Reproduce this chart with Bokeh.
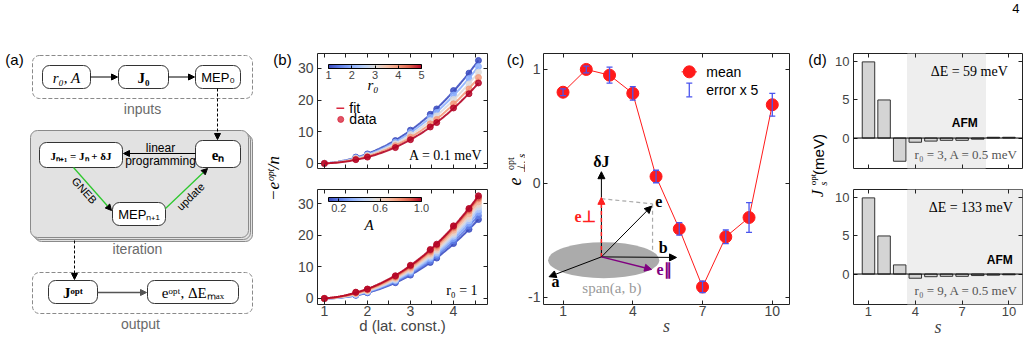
import numpy as np
from bokeh.plotting import figure
from bokeh.layouts import column
from bokeh.models import (Range1d, LinearAxis, FixedTicker, Label, Arrow, NormalHead,
                          TeeHead, Whisker, ColumnDataSource, ColorBar, LinearColorMapper,
                          BoxAnnotation, Span, PrintfTickFormatter)
from bokeh.embed import file_html
from bokeh.resources import INLINE

# ---------------- (b) optimal barrier per spin vs. shell distance ----------------
shell_dist = [1.0, 1.73, 2.0, 2.65, 3.0, 3.46, 3.61, 4.0, 4.36, 4.58]

r0_values = [1, 2, 3, 4, 5]                       # A = 0.1 meV
barrier_r0_1 = [0, 2.0, 3.0, 7.2, 10.5, 15.5, 17.2, 23.0, 28.5, 32.5]
barrier_r0_2 = [0, 1.8, 2.7, 6.7, 9.8, 14.5, 16.1, 21.6, 26.8, 30.6]
barrier_r0_3 = [0, 1.6, 2.5, 6.2, 9.1, 13.5, 15.0, 20.2, 25.1, 28.8]
barrier_r0_4 = [0, 1.4, 2.2, 5.6, 8.3, 12.5, 13.9, 18.8, 23.5, 27.1]
barrier_r0_5 = [0, 1.2, 2.0, 5.0, 7.5, 11.5, 12.9, 17.5, 22.0, 25.4]
barrier_vs_r0 = [barrier_r0_1, barrier_r0_2, barrier_r0_3, barrier_r0_4, barrier_r0_5]

A_values = [0.1, 0.2, 0.3, 0.4, 0.5, 0.6, 0.7, 0.8, 0.9, 1.0]   # r0 = 1
barrier_A_01 = [0, 1.0, 1.8, 5.0, 7.4, 11.4, 12.8, 17.4, 21.9, 25.0]
barrier_A_02 = [0, 1.1, 1.9, 5.3, 7.8, 11.9, 13.4, 18.2, 22.9, 26.2]
barrier_A_03 = [0, 1.2, 2.1, 5.6, 8.2, 12.5, 14.0, 19.0, 23.8, 27.3]
barrier_A_04 = [0, 1.3, 2.2, 5.8, 8.6, 13.0, 14.5, 19.7, 24.6, 28.2]
barrier_A_05 = [0, 1.4, 2.3, 6.0, 8.9, 13.4, 15.0, 20.3, 25.3, 29.0]
barrier_A_06 = [0, 1.5, 2.4, 6.3, 9.2, 13.9, 15.5, 20.9, 26.0, 29.8]
barrier_A_07 = [0, 1.6, 2.6, 6.5, 9.6, 14.3, 16.0, 21.6, 26.8, 30.6]
barrier_A_08 = [0, 1.8, 2.8, 6.8, 10.0, 14.8, 16.5, 22.3, 27.7, 31.5]
barrier_A_09 = [0, 1.9, 2.9, 7.0, 10.3, 15.2, 16.9, 22.7, 28.2, 32.0]
barrier_A_10 = [0, 2.0, 3.0, 7.2, 10.5, 15.5, 17.2, 23.0, 28.5, 32.5]
barrier_vs_A = [barrier_A_01, barrier_A_02, barrier_A_03, barrier_A_04, barrier_A_05,
                barrier_A_06, barrier_A_07, barrier_A_08, barrier_A_09, barrier_A_10]

# ---------------- (c) perpendicular component of the optimal direction ----------------
shells = [1, 2, 3, 4, 5, 6, 7, 8, 9, 10]
e_perp_mean = [0.80, 1.00, 0.95, 0.79, 0.06, -0.40, -0.91, -0.47, -0.30, 0.69]
e_perp_err = [0.006, 0.006, 0.014, 0.012, 0.011, 0.011, 0.010, 0.012, 0.026, 0.020]
ERR_SCALE = 5

# ---------------- (d) optimal couplings ----------------
J_opt_r0_3 = [10.0, 5.0, -3.05, -0.55, -0.40, -0.30, -0.30, -0.15, 0.10, 0.10]
J_opt_r0_9 = [10.0, 5.0, 1.2, -0.55, -0.35, -0.30, -0.30, -0.20, -0.15, -0.10]
dE_r0_3 = 59
dE_r0_9 = 133

SANS = "Liberation Sans"
SERIF = "Liberation Serif"

CW_ANCHORS = [(59, 76, 192), (98, 130, 234), (141, 176, 254), (184, 208, 249),
              (221, 220, 220), (245, 196, 173), (244, 154, 123), (222, 96, 77), (180, 4, 38)]


def coolwarm(t):
    t = min(max(t, 0.0), 1.0) * (len(CW_ANCHORS) - 1)
    i = min(int(t), len(CW_ANCHORS) - 2)
    f = t - i
    c = [round(a + (b - a) * f) for a, b in zip(CW_ANCHORS[i], CW_ANCHORS[i + 1])]
    return "#%02x%02x%02x" % tuple(c)


CW256 = [coolwarm(i / 255) for i in range(256)]


def txt(p, x, y, s, size=13, font=SANS, style="normal", color="black",
        align="center", baseline="middle", angle=0.0):
    p.add_layout(Label(x=x, y=y, text=s, text_font=font, text_font_size=f"{size}px",
                       text_font_style=style, text_color=color, text_align=align,
                       text_baseline=baseline, angle=angle))


def style_axis(ax, ticks, show_labels, size, standoff):
    ax.axis_line_color = None
    ax.major_tick_in = 4
    ax.major_tick_out = 0
    ax.minor_tick_in = 4
    ax.minor_tick_out = 0
    ax.major_tick_line_color = "#222222"
    ax.minor_tick_line_color = "#222222"
    ax.major_label_text_font = SANS
    if show_labels:
        ax.major_label_text_font_size = f"{size}px"
        ax.major_label_standoff = standoff
        ax.major_label_overrides = {t: ("-" + str(abs(t)) if t < 0 else str(t)) for t in ticks}
    else:
        ax.major_label_overrides = {t: "" for t in ticks}
        ax.major_label_text_font_size = "1px"
        ax.major_label_text_color = None
        ax.major_label_standoff = 0


def xlabel(ax, text, font, style, size, standoff):
    ax.axis_label = text
    ax.axis_label_text_font = font
    ax.axis_label_text_font_style = style
    ax.axis_label_text_font_size = f"{size}px"
    ax.axis_label_standoff = standoff


def panel(width, height, xr, yr, lb, rb, tb, bb, xticks, yticks,
          xminor=(), yminor=(), xlabels=True, size=14, xstand=1, ystand=4):
    p = figure(width=width, height=height, x_range=Range1d(*xr), y_range=Range1d(*yr),
               output_backend="svg", toolbar_location=None,
               min_border_left=lb, min_border_right=rb, min_border_top=tb, min_border_bottom=bb)
    p.grid.visible = False
    p.outline_line_color = "#222222"
    p.outline_line_width = 1
    p.background_fill_color = "white"
    p.border_fill_color = "white"
    p.below[0].ticker = FixedTicker(ticks=list(xticks), minor_ticks=list(xminor))
    p.left[0].ticker = FixedTicker(ticks=list(yticks), minor_ticks=list(yminor))
    top = LinearAxis(ticker=FixedTicker(ticks=list(xticks), minor_ticks=list(xminor)))
    right = LinearAxis(ticker=FixedTicker(ticks=list(yticks), minor_ticks=list(yminor)))
    p.add_layout(top, "above")
    p.add_layout(right, "right")
    style_axis(p.below[0], xticks, xlabels, size, xstand)
    style_axis(p.left[0], yticks, True, size, ystand)
    style_axis(top, xticks, False, size, 0)
    style_axis(right, yticks, False, size, 0)
    return p


def blank(width, height, xr=None, lb=0, rb=0):
    p = figure(width=width, height=height,
               x_range=Range1d(*(xr if xr else (0, width))), y_range=Range1d(height, 0),
               output_backend="svg", toolbar_location=None, x_axis_location=None,
               y_axis_location=None, min_border=0, min_border_left=lb, min_border_right=rb)
    p.grid.visible = False
    p.outline_line_color = None
    p.background_fill_color = "white"
    p.border_fill_color = "white"
    return p


def arrow(p, x0, y0, x1, y1, color="black", dash="solid", width=1.0, head=6, head_color="black"):
    p.add_layout(Arrow(x_start=x0, y_start=y0, x_end=x1, y_end=y1, line_color=color,
                       line_width=width, line_dash=dash,
                       end=NormalHead(size=head, fill_color=head_color, line_color=head_color)))


def colorbar(low, high, ticks, loc, fmt):
    return ColorBar(color_mapper=LinearColorMapper(palette=CW256, low=low, high=high),
                    orientation="horizontal", location=loc, width=93, height=4, padding=0,
                    margin=0, ticker=FixedTicker(ticks=ticks),
                    formatter=PrintfTickFormatter(format=fmt), major_label_text_font=SANS,
                    major_label_text_font_size="11px", major_tick_line_color="black",
                    major_tick_in=3, major_tick_out=0, label_standoff=2, bar_line_color="black",
                    background_fill_alpha=0, border_line_color=None)


# ================= (a) workflow diagram =================
pa = blank(262, 342)
group_boxes = {"inputs": (32, 55, 252, 98), "output": (32, 272, 252, 313)}
stack_boxes = [(34, 134, 252, 241), (32, 132, 250, 239), (30, 130, 248, 237)]
node_boxes = {
    "r0A": (42, 65, 90, 88), "J0": (118, 65, 168, 88), "MEP0": (195, 65, 240, 88),
    "Jn1": (39, 142, 122, 167), "en": (195, 140, 240, 167), "MEPn1": (112, 202, 165, 225),
    "Jopt": (48, 280, 97, 303), "eopt": (147, 280, 238, 303),
}
for b in stack_boxes:
    pa.quad(left=[b[0]], right=[b[2]], top=[b[1]], bottom=[b[3]], fill_color="#e2e2e2",
            line_color="#8a8a8a", line_width=1, border_radius=7)
for b in group_boxes.values():
    pa.quad(left=[b[0]], right=[b[2]], top=[b[1]], bottom=[b[3]], fill_color=None,
            line_color="#8a8a8a", line_dash="4 2", line_width=1, border_radius=7)
for b in node_boxes.values():
    pa.quad(left=[b[0]], right=[b[2]], top=[b[1]], bottom=[b[3]], fill_color="white",
            line_color="#333333", line_width=1, border_radius=7)

arrow(pa, 90, 76.5, 117, 76.5)
arrow(pa, 168, 76.5, 194, 76.5)
arrow(pa, 217, 88, 217, 139, dash="3 2")
arrow(pa, 195, 153, 123, 153)
arrow(pa, 73, 167, 111, 210, color="#2ec82e", width=1.3)
arrow(pa, 165, 208, 207, 168, color="#2ec82e", width=1.3)
arrow(pa, 74, 240, 74, 279, dash="3 2")
arrow(pa, 97, 292, 146, 292, color="#555555", width=1.6, head_color="#555555")

txt(pa, 14, 59, "(a)", 15)
txt(pa, 66, 77, "r₀, A", 15, SERIF, "italic")
txt(pa, 143, 77, "J₀", 15, SERIF, "bold")
txt(pa, 217.5, 77, "MEP₀", 13)
txt(pa, 80.5, 155, "Jₙ₊₁ = Jₙ + δJ", 11, SERIF, "bold")
txt(pa, 217.5, 154, "eₙ", 15, SERIF, "bold")
txt(pa, 138.5, 214, "MEPₙ₊₁", 13)
txt(pa, 72.5, 292, "Jᵒᵖᵗ", 15, SERIF, "bold")
txt(pa, 192.5, 292, "eᵒᵖᵗ, ΔEₘₐₓ", 15, SERIF)
txt(pa, 142, 108, "inputs", 14, color="#6a6a6a")
txt(pa, 137, 248, "iteration", 14, color="#6a6a6a")
txt(pa, 140, 323, "output", 14, color="#6a6a6a")
txt(pa, 160, 147, "linear", 12)
txt(pa, 160, 160, "programming", 12)
txt(pa, 84, 190, "GNEB", 11, angle=-0.84)
txt(pa, 190, 196, "update", 11, angle=0.78)

# ================= (b) barrier vs distance =================
lab_b = blank(32, 342)
txt(lab_b, 20, 59, "(b)", 15)
txt(lab_b, 11, 178, "−eᵒᵖᵗ/n", 17, SERIF, "italic", angle=np.pi / 2)

b_xticks, b_xminor = [1, 2, 3, 4], [1.5, 2.5, 3.5, 4.5]
b_yticks = [0, 10, 20, 30]
pb1 = panel(211, 178, (0.84, 4.79), (-1.6, 34.7), 22, 18, 53, 10,
            b_xticks, b_yticks, b_xminor, xlabels=False)
pb2 = panel(211, 164, (0.84, 4.79), (-1.9, 34.5), 22, 18, 11, 38,
            b_xticks, b_yticks, b_xminor, xlabels=True)
xlabel(pb2.below[0], "d (lat. const.)", SANS, "normal", 15, -2)

xf = np.linspace(shell_dist[0], shell_dist[-1], 80)
for r0, vals in zip(r0_values, barrier_vs_r0):
    col = coolwarm((r0 - r0_values[0]) / (r0_values[-1] - r0_values[0]))
    coef = np.polyfit(shell_dist, vals, 3)
    pb1.line(xf, np.polyval(coef, xf), line_color=col, line_width=2, line_alpha=0.9)
    pb1.scatter(shell_dist, vals, size=6, fill_color=col, line_color=col, alpha=0.85)

for A, vals in zip(A_values, barrier_vs_A):
    col = coolwarm((A - A_values[0]) / (A_values[-1] - A_values[0]))
    coef = np.polyfit(shell_dist, vals, 3)
    pb2.line(xf, np.polyval(coef, xf), line_color=col, line_width=2, line_alpha=0.9)
    pb2.scatter(shell_dist, vals, size=6, fill_color=col, line_color=col, alpha=0.85)

# legend of the upper panel
pb1.line([1.28, 1.46], [17.4, 17.4], line_color="#d8283f", line_width=1.5)
pb1.scatter([1.38], [13.9], size=6, fill_color="#d8283f", line_color="#d8283f", alpha=0.8)
txt(pb1, 1.58, 17.4, "fit", 14, align="left")
txt(pb1, 1.58, 13.9, "data", 14, align="left")
txt(pb1, 4.67, 2.6, "A = 0.1 meV", 14, SERIF, align="right")
txt(pb2, 4.56, 2.6, "r₀ = 1", 14, SERIF, align="right")

pb1.add_layout(colorbar(r0_values[0], r0_values[-1], r0_values, (11, 87), "%d"))
txt(pb1, 2.13, 24.6, "r₀", 15, SERIF, "italic")
pb2.add_layout(colorbar(A_values[0], A_values[-1], [0.2, 0.6, 1.0], (11, 90), "%.1f"))
txt(pb2, 2.04, 23.3, "A", 15, SERIF, "italic")

# ================= (c) e_perp per shell =================
lab_c = blank(20, 342)
txt(lab_c, 10, 59, "(c)", 15)
txt(lab_c, 9, 181, "e", 18, SERIF, "italic", angle=np.pi / 2)
txt(lab_c, 5, 163, "opt", 10, SERIF, angle=np.pi / 2)
txt(lab_c, 15, 163, "⊥, s", 11, SERIF, "italic", angle=np.pi / 2)

pc = panel(280, 342, (0.16, 10.74), (-1.064, 1.14), 16, 16, 53, 38,
           [1, 4, 7, 10], [-1, 0, 1], ystand=3)
xlabel(pc.below[0], "s", SERIF, "italic", 18, -3)

# inset: decomposition of e into span(a, b) and the perpendicular part
pc.ellipse(x=[2.75], y=[-0.675], width=[4.78], height=[0.317], fill_color="#ababab",
           line_color=None)
O = (2.65, -0.646)
pc.line([2.65, 4.85], [-0.135, -0.18], line_color="#aaaaaa", line_dash="4 3", line_width=1.2)
pc.line([4.85, 4.85], [-0.18, -0.75], line_color="#aaaaaa", line_dash="4 3", line_width=1.2)
arrow(pc, O[0], O[1], 2.65, 0.102, head=7)
arrow(pc, O[0], O[1], 2.65, -0.123, color="#ff2020", dash="4 3", width=1.5, head=7,
      head_color="#ff2020")
arrow(pc, O[0], O[1], 4.81, -0.20, head=7)
arrow(pc, O[0], O[1], 5.88, -0.651, head=7)
arrow(pc, O[0], O[1], 0.40, -0.82, head=7)
arrow(pc, O[0], O[1], 4.81, -0.756, color="#800080", width=1.5, head=7, head_color="#800080")
txt(pc, 2.65, 0.19, "δJ", 16, SERIF, "bold")
txt(pc, 1.95, -0.29, "e⊥", 16, SERIF, "bold", color="#ff2020")
txt(pc, 5.12, -0.16, "e", 16, SERIF, "bold")
txt(pc, 5.31, -0.565, "b", 16, SERIF, "bold")
txt(pc, 0.68, -0.86, "a", 16, SERIF, "bold")
txt(pc, 5.35, -0.76, "e∥", 16, SERIF, "bold", color="#800080")
txt(pc, 3.10, -0.92, "span(a, b)", 15, SERIF, color="#9a9a9a")

pc.line(shells, e_perp_mean, line_color="#ff1a1a", line_width=1)
pc.scatter(shells, e_perp_mean, size=12, fill_color="#ff1a1a", line_color="#ff1a1a")
err_src = ColumnDataSource(dict(
    s=shells,
    lo=[m - ERR_SCALE * e for m, e in zip(e_perp_mean, e_perp_err)],
    hi=[m + ERR_SCALE * e for m, e in zip(e_perp_mean, e_perp_err)],
))
wh = Whisker(source=err_src, base="s", lower="lo", upper="hi", dimension="height",
             line_color="#4a55ee", line_width=1.3, level="overlay",
             upper_head=TeeHead(size=6, line_color="#4a55ee", line_width=1.3),
             lower_head=TeeHead(size=6, line_color="#4a55ee", line_width=1.3))
pc.add_layout(wh)

# legend
pc.line([6.1, 6.76], [0.979, 0.979], line_color="#ff1a1a", line_width=1)
pc.scatter([6.43], [0.979], size=12, fill_color="#ff1a1a", line_color="#ff1a1a")
pc.segment([6.43], [0.76], [6.43], [0.88], line_color="#4a55ee", line_width=1.3)
pc.scatter([6.43, 6.43], [0.76, 0.88], marker="dash", size=6, line_color="#4a55ee",
           line_width=1.3)
txt(pc, 7.16, 0.979, "mean", 14, align="left")
txt(pc, 7.16, 0.82, "error x 5", 14, align="left")

# ================= (d) optimal couplings =================
lab_d = blank(25, 342)
txt(lab_d, 12, 59, "(d)", 15)
txt(lab_d, 12, 193, "J", 16, SERIF, "italic", angle=np.pi / 2)
txt(lab_d, 7, 179, "opt", 9, SERIF, angle=np.pi / 2)
txt(lab_d, 18, 183, "s", 10, SERIF, "italic", angle=np.pi / 2)
txt(lab_d, 13, 154, "(meV)", 15, angle=np.pi / 2)

d_xr = (0.04, 10.87)
d_xticks = [1, 4, 7, 10]
d_yticks = [0, 5, 10]
strip_d = blank(199, 20, xr=d_xr, lb=23, rb=7)
txt(strip_d, 10.44, 8, "4", 13)
pd1 = panel(199, 158, d_xr, (-4.0, 11.1), 23, 7, 33, 10, d_xticks, d_yticks,
            xlabels=False, size=13)
pd2 = panel(199, 164, d_xr, (-4.0, 11.1), 23, 7, 11, 38, d_xticks, d_yticks,
            xlabels=True, size=13, xstand=2)
xlabel(pd2.below[0], "s", SERIF, "italic", 18, -2)

pd1.add_layout(BoxAnnotation(left=3.5, right=8.5, fill_color="#eeeeee", fill_alpha=1,
                             line_color="#dddddd", level="underlay"))
pd2.add_layout(BoxAnnotation(left=3.5, fill_color="#eeeeee", fill_alpha=1,
                             line_color="#dddddd", level="underlay"))
for p, J in ((pd1, J_opt_r0_3), (pd2, J_opt_r0_9)):
    p.vbar(x=shells, top=J, bottom=0, width=0.8, fill_color="#d4d4d4", line_color="#333333",
           line_width=1)
    p.add_layout(Span(location=0, dimension="width", line_color="black", line_width=1))

txt(pd1, 9.93, 8.8, f"ΔE = {dE_r0_3} meV", 14, SERIF, align="right")
txt(pd1, 8.0, 2.0, "AFM", 12, SANS, "bold", align="right")
txt(pd1, 10.6, -2.2, "r₀ = 3, A = 0.5 meV", 13, SERIF, color="#555555", align="right")
txt(pd2, 10.25, 8.8, f"ΔE = {dE_r0_9} meV", 14, SERIF, align="right")
txt(pd2, 10.25, 1.8, "AFM", 12, SANS, "bold", align="right")
txt(pd2, 10.6, -2.2, "r₀ = 9, A = 0.5 meV", 13, SERIF, color="#555555", align="right")

# Each block is its own root so that plot frames are not aligned across panels;
# the page lays the roots out side by side.
roots = [pa, lab_b, column(pb1, pb2), lab_c, pc, lab_d, column(strip_d, pd1, pd2)]
PAGE = """{% block postamble %}
<style>html body { display: flex !important; flex-direction: row; align-items: flex-start;
margin: 0; padding: 0; }</style>
{% endblock %}"""
open("out.html", "w").write(file_html(roots, INLINE, template=PAGE))
